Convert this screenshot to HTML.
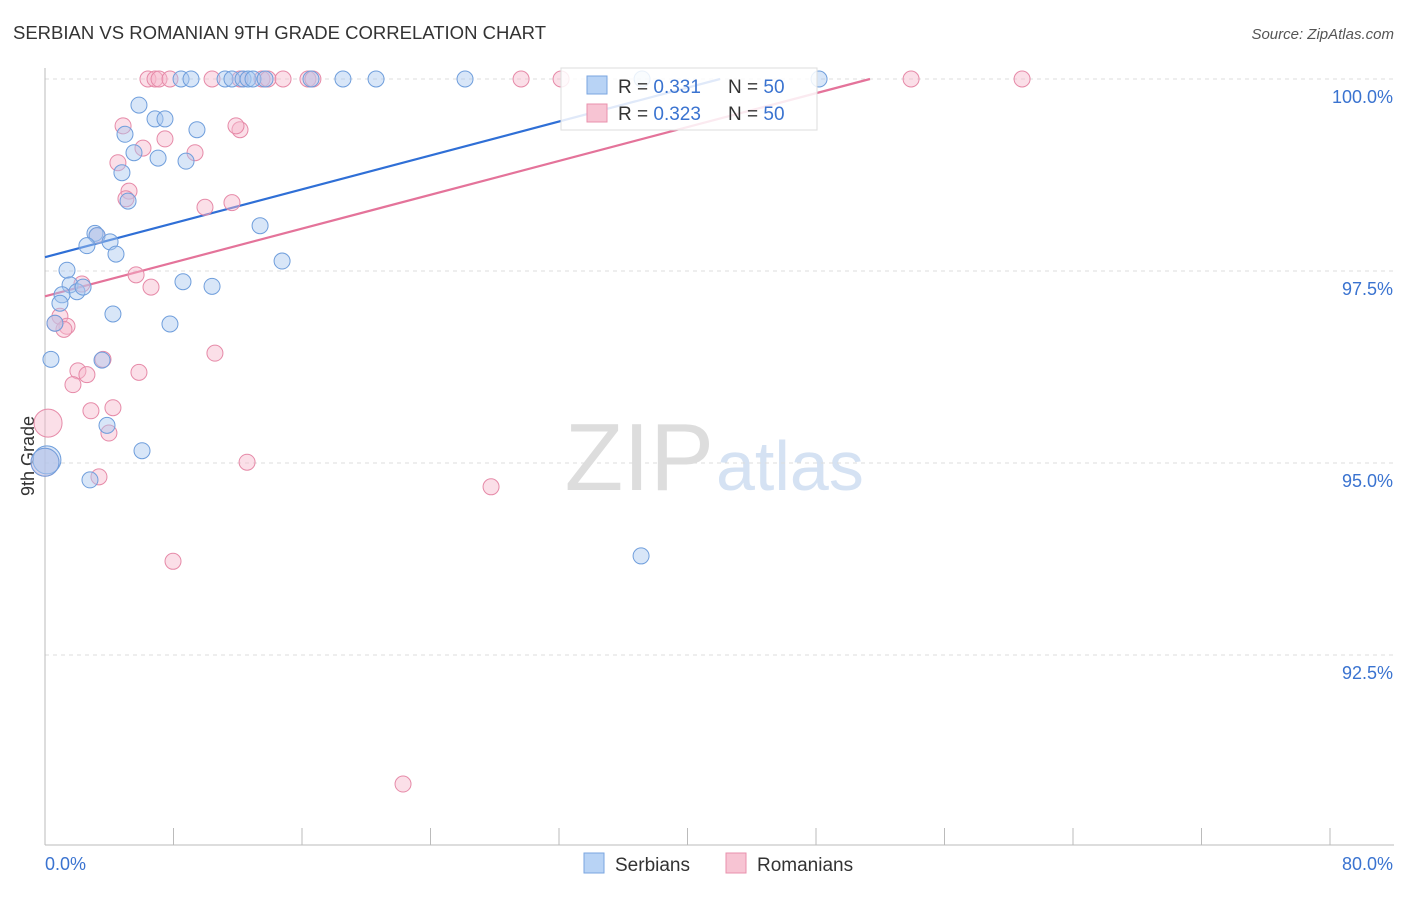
<!DOCTYPE html>
<html><head><meta charset="utf-8">
<style>
body{margin:0;background:#fff;font-family:"Liberation Sans",sans-serif;}
svg text{font-family:"Liberation Sans",sans-serif;}
</style></head>
<body>
<svg id="chart" width="1406" height="892" xmlns="http://www.w3.org/2000/svg">
<text x="13" y="39" font-size="18" fill="#333" textLength="533" lengthAdjust="spacingAndGlyphs">SERBIAN VS ROMANIAN 9TH GRADE CORRELATION CHART</text>
<text x="1394" y="39" font-size="15" fill="#555" text-anchor="end" font-style="italic">Source: ZipAtlas.com</text>
<text x="714" y="490" font-size="96" text-anchor="end" fill="#ddd" font-family="Liberation Serif">ZIP</text>
<text x="716" y="490" font-size="70" fill="#d5e2f3">atlas</text>
<text transform="translate(34,456) rotate(-90)" font-size="18" fill="#333" text-anchor="middle">9th Grade</text>
<g id="grid"></g>
<g id="axes"></g>
<g id="lines"></g>
<g id="points"></g>
<g>
<rect x="561" y="68" width="256" height="62" fill="#fff" fill-opacity="0.85" stroke="#ddd"/>
<rect x="587" y="76" width="20" height="18" fill="#b8d3f5" stroke="#7aa6e0"/>
<text x="618" y="93" font-size="19" fill="#333">R = <tspan fill="#3a73d0">0.331</tspan></text>
<text x="728" y="93" font-size="19" fill="#333">N = <tspan fill="#3a73d0">50</tspan></text>
<rect x="587" y="104" width="20" height="18" fill="#f7c4d3" stroke="#e891ad"/>
<text x="618" y="120" font-size="19" fill="#333">R = <tspan fill="#3a73d0">0.323</tspan></text>
<text x="728" y="120" font-size="19" fill="#333">N = <tspan fill="#3a73d0">50</tspan></text>
</g>
<g>
<rect x="584" y="853" width="20" height="20" fill="#b8d3f5" stroke="#7aa6e0"/>
<text x="615" y="871" font-size="19" fill="#333">Serbians</text>
<rect x="726" y="853" width="20" height="20" fill="#f7c4d3" stroke="#e891ad"/>
<text x="757" y="871" font-size="19" fill="#333">Romanians</text>
</g>
</svg>
<script>
const serbX=[8.47,9.09,11.21,11.64,12.33,12.64,12.95,13.70,16.56,18.55,20.61,26.15,37.17,48.19,5.85,6.85,7.47,4.98,9.46,5.54,7.04,8.78,4.79,5.17,3.11,3.24,13.39,2.61,4.05,4.42,14.76,1.37,1.56,1.99,2.37,1.06,0.93,8.59,10.40,4.23,0.62,7.78,0.37,3.55,3.86,6.04,2.80,37.11,0.12,0];
const serbY=[100,100,100,100,100,100,100,100,100,100,100,100,100,100,99.66,99.48,99.48,99.28,99.34,99.04,98.97,98.93,98.78,98.41,97.99,97.96,98.09,97.83,97.88,97.72,97.63,97.51,97.32,97.23,97.29,97.19,97.08,97.36,97.30,96.94,96.82,96.81,96.35,96.34,95.49,95.16,94.78,93.79,95.04,95.01];
const romX=[6.41,6.85,7.10,7.78,10.40,12.14,13.51,13.88,14.82,16.37,16.68,29.64,32.13,53.92,60.83,4.86,12.14,11.89,7.47,6.10,9.34,4.54,5.23,5.04,9.96,11.64,3.24,5.67,6.60,2.30,0.93,1.37,1.18,0.62,3.61,10.58,2.05,2.61,5.85,1.74,2.86,4.23,0.19,3.98,3.36,12.58,27.77,7.97,22.29,0];
const romY=[100,100,100,100,100,100,100,100,100,100,100,100,100,100,100,99.39,99.34,99.39,99.22,99.10,99.04,98.91,98.54,98.44,98.33,98.39,97.96,97.45,97.29,97.33,96.91,96.78,96.74,96.82,96.35,96.43,96.20,96.15,96.18,96.02,95.68,95.72,95.52,95.39,94.82,95.01,94.69,93.72,90.82,95.01];
const trendIntercept=[97.68,97.17];
const trendSlope=[0.0552,0.0551];
const yTicks=[100,97.5,95,92.5];
const yTickLabels=["100.0%","97.5%","95.0%","92.5%"];
const xLabels=["0.0%","80.0%"];

const NS="http://www.w3.org/2000/svg";
const X=v=>45+v/80*1285;
const Y=v=>79+(100-v)*76.8;
function mk(tag,attrs,parent){const e=document.createElementNS(NS,tag);for(const k in attrs)e.setAttribute(k,attrs[k]);parent.appendChild(e);return e;}
const grid=document.getElementById('grid'),axes=document.getElementById('axes'),lines=document.getElementById('lines'),pts=document.getElementById('points');
yTicks.forEach((t,i)=>{
 const l=mk('line',{x1:45,x2:1394,y1:Y(t),y2:Y(t),stroke:'#ddd','stroke-dasharray':'4,4'},grid);
 
 
 const tx=mk('text',{x:1393,y:Y(t)+24,'font-size':18,fill:'#3a73d0','text-anchor':'end'},grid);
 tx.textContent=yTickLabels[i];
 
 
});
const ya=mk('line',{x1:45,x2:45,y1:68,y2:845,stroke:'#bbb'},axes);


const xa=mk('line',{x1:45,x2:1394,y1:845,y2:845,stroke:'#bbb'},axes);


for(let i=0;i<=10;i++){const v=i*8;
 const t=mk('line',{x1:X(v),x2:X(v),y1:828,y2:845,stroke:'#bbb'},axes);
 
 
}
const xl0=mk('text',{x:45,y:870,'font-size':18,fill:'#3a73d0'},axes);xl0.textContent=xLabels[0];


const xl1=mk('text',{x:1393,y:870,'font-size':18,fill:'#3a73d0','text-anchor':'end'},axes);xl1.textContent=xLabels[1];



function drawPts(xs,ys,fill,stroke,name){
 xs.forEach((x,i)=>{
  const big=x<0.2;
  const c=mk('circle',{cx:X(x),cy:Y(ys[i]),r:big?14:8,fill:fill,'fill-opacity':0.45,stroke:stroke,'stroke-width':1},pts);
  
  
 });
}
drawPts(romX,romY,'#f7b8cb','#e68aa8','romanian-point');
drawPts(serbX,serbY,'#a9c8f0','#6f9edc','serbian-point');
const cols=['#2f6fd6','#e4739a'];const names=['serbian-trend-line','romanian-trend-line'];
trendIntercept.forEach((b,i)=>{
 const xEnd=(100-b)/trendSlope[i];
 const l=mk('line',{x1:X(0),y1:Y(b),x2:X(xEnd),y2:Y(100),stroke:cols[i],'stroke-width':2.2},lines);
 
 
});
</script>
</body></html>
